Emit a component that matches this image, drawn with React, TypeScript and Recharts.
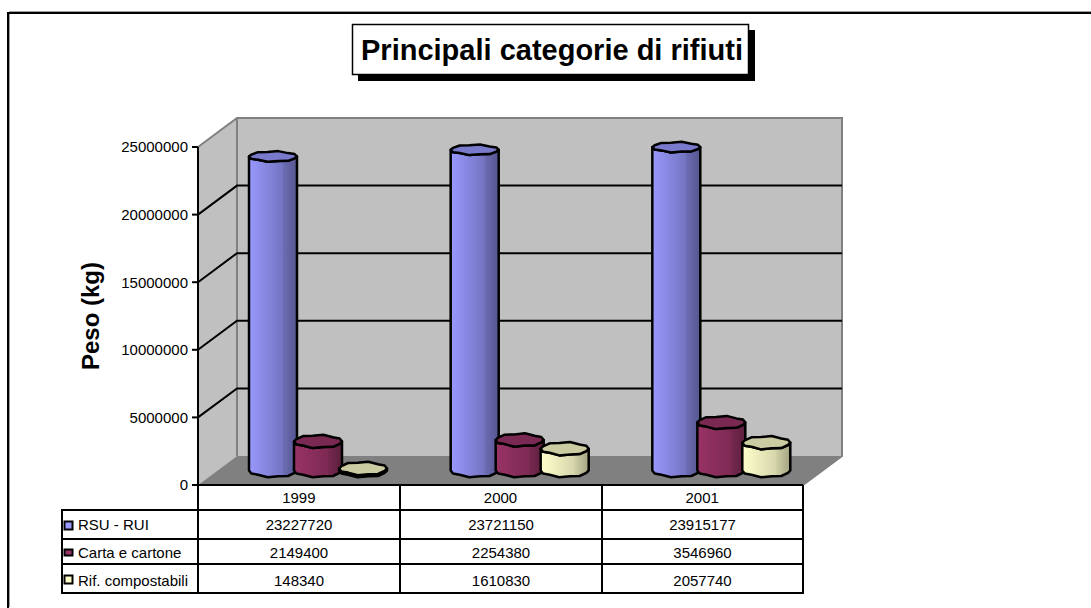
import { BarChart, Bar, XAxis, YAxis, CartesianGrid, ReferenceArea, Customized } from 'recharts'

const YEARS = ['1999', '2000', '2001']
const SERIES_NAMES = ['RSU - RUI', 'Carta e cartone', 'Rif. compostabili']
const RSU_VALUES = [23227720, 23721150, 23915177]
const CARTA_VALUES = [2149400, 2254380, 3546960]
const COMPOST_VALUES = [148340, 1610830, 2057740]
const Y_TICKS = [0, 5000000, 10000000, 15000000, 20000000, 25000000]

const TITLE = 'Principali categorie di rifiuti'
const FONT = '"Liberation Sans", Arial, sans-serif'

const WIDTH = 1091
const HEIGHT = 608
const PLOT_LEFT = 198
const PLOT_RIGHT = 803
const PLOT_TOP = 147
const PLOT_BOTTOM = 485
// offset of the back wall from the front plane
const DEPTH_X = 39
const DEPTH_Y = -29

const PALETTE = [
  { key: 'rsu', front: '#9999ff', mid: '#7474c2', seam: '#6c6cb4', back: '#55558f', cap: '#7a7acc' },
  { key: 'carta', front: '#993366', mid: '#7d2a54', seam: '#76284f', back: '#5c1f3d', cap: '#7a2952' },
  { key: 'compost', front: '#ffffcc', mid: '#d6d6ac', seam: '#cfcfa6', back: '#a3a382', cap: '#cccca3' },
]

const data = YEARS.map((year, i) => ({
  year,
  rsu: RSU_VALUES[i],
  carta: CARTA_VALUES[i],
  compost: COMPOST_VALUES[i],
}))

const RING_SIDES = 14
const WOBBLE = [1, 0.78, 1, 0.84, 1, 0.76, 1, 1, 0.8, 1, 0.84, 1, 0.78, 1]

function ring(cx: number, cy: number, rx: number, ry: number) {
  const pts: [number, number][] = []
  for (let i = 0; i <= RING_SIDES; i++) {
    const a = (i * Math.PI * 2) / RING_SIDES
    const f = WOBBLE[i % RING_SIDES]
    pts.push([cx + rx * Math.cos(a), cy + ry * Math.sin(a) * f])
  }
  return pts
}

const line = (pts: [number, number][]) => pts.map((p) => `L${p[0].toFixed(1)} ${p[1].toFixed(1)}`).join('')

// 3D looking cylinder; x/y/height come from the chart scales
function cylinder(seriesIndex: number) {
  return function CylinderShape(props: any) {
    const { x, y, width, height } = props
    const p = PALETTE[seriesIndex]
    const cx = x + width / 2 + DEPTH_X / 2
    const rx = width / 2 + 1.5
    const topY = y + DEPTH_Y / 2
    const botY = y + height + DEPTH_Y / 2
    const ry = 5.5 + (1.5 * (topY - 156)) / 314
    const top = ring(cx, topY, rx, ry)
    const bottom = ring(cx, botY, rx, 7)
    const half = RING_SIDES / 2
    const topFront = top.slice(0, half + 1)
    const botFront = bottom.slice(0, half + 1).reverse()
    const body = `M${cx - rx} ${topY}` + line(botFront) + line(topFront) + 'Z'
    const cap = `M${top[0][0]} ${top[0][1]}` + line(top.slice(1)) + 'Z'
    return (
      <g stroke="#000" strokeWidth={2.5} strokeLinejoin="round">
        <path d={body} fill={`url(#grad-${p.key})`} />
        <path d={cap} fill={p.cap} />
      </g>
    )
  }
}

function Walls(props: any) {
  const { x, y, width, height } = props
  const r = x + width
  const b = y + height
  const bx = x + DEPTH_X
  const by = y + DEPTH_Y
  const gray = '#808080'
  return (
    <g>
      <polygon points={`${x},${y} ${bx},${by} ${bx},${b + DEPTH_Y} ${x},${b}`} fill="#c0c0c0" />
      <rect x={bx} y={by} width={width} height={height} fill="#c0c0c0" />
      <polygon points={`${x},${b} ${bx},${b + DEPTH_Y} ${r + DEPTH_X},${b + DEPTH_Y} ${r},${b}`} fill={gray} />
      <path
        d={`M${x} ${y}L${bx} ${by}H${r + DEPTH_X}V${b + DEPTH_Y}L${r} ${b}M${bx} ${by}V${b + DEPTH_Y}`}
        fill="none"
        stroke={gray}
        strokeWidth={2}
      />
    </g>
  )
}

function gridLine(props: any) {
  const { x1, x2, y1, key } = props
  if (y1 <= PLOT_TOP + 1 || y1 >= PLOT_BOTTOM - 1) return <g key={key} />
  return (
    <path
      key={key}
      d={`M${x1} ${y1}L${x1 + DEPTH_X} ${y1 + DEPTH_Y}H${x2 + DEPTH_X}`}
      fill="none"
      stroke="#000"
      strokeWidth={2}
    />
  )
}

const COLUMNS = [198, 400, 602, 803]
const ROWS = [510, 539, 564, 593]
const ROW_TEXT_Y = [526, 554, 582]
const KEY_Y = [521.5, 549.5, 575.5]
const ROW_VALUES = [RSU_VALUES, CARTA_VALUES, COMPOST_VALUES]

function Decorations() {
  return (
    <g fontFamily={FONT}>
      {/* outer frame, open towards the bottom right */}
      <path d={`M9.5 ${HEIGHT}V12.5H${WIDTH}`} fill="none" stroke="#a0a0a0" strokeWidth={1} transform="translate(0,-1)" />
      <path d={`M8 ${HEIGHT}V13H${WIDTH}`} fill="none" stroke="#000" strokeWidth={2} />

      {/* title box */}
      <rect x={358} y={30} width={397} height={51} fill="#000" />
      <rect x={352.5} y={24.5} width={396} height={50} fill="#fff" stroke="#000" strokeWidth={1.5} />
      <text x={552} y={60} textAnchor="middle" fontSize={29} fontWeight="bold" fill="#000">
        {TITLE}
      </text>

      {/* data table */}
      <g stroke="#000" strokeWidth={2}>
        {COLUMNS.map((cx) => (
          <line key={cx} x1={cx} x2={cx} y1={PLOT_BOTTOM} y2={ROWS[3] + 1} />
        ))}
        <line x1={62} x2={62} y1={ROWS[0] - 1} y2={ROWS[3] + 1} />
        {ROWS.map((ry) => (
          <line key={ry} x1={62} x2={PLOT_RIGHT} y1={ry} y2={ry} />
        ))}
      </g>
      {SERIES_NAMES.map((name, i) => (
        <g key={name}>
          <rect x={64.5} y={KEY_Y[i]} width={8} height={i === 1 ? 6 : 8} fill={PALETTE[i].front} stroke="#000" strokeWidth={2} />
          <text x={78} y={ROW_TEXT_Y[i]} dominantBaseline="middle" fontSize={15} fill="#000">
            {name}
          </text>
          {ROW_VALUES[i].map((value, j) => (
            <text
              key={j}
              x={(COLUMNS[j] + COLUMNS[j + 1]) / 2}
              y={ROW_TEXT_Y[i]}
              textAnchor="middle"
              dominantBaseline="middle"
              fontSize={15}
              fill="#000"
            >
              {value}
            </text>
          ))}
        </g>
      ))}
    </g>
  )
}

export default function App() {
  return (
    <div style={{ position: 'absolute', left: 0, top: 0, width: WIDTH, height: HEIGHT, background: '#fff', overflow: 'hidden' }}>
      <BarChart
        width={WIDTH}
        height={HEIGHT}
        data={data}
        barSize={45}
        barGap={0}
        barCategoryGap={0}
        margin={{ top: PLOT_TOP, right: WIDTH - PLOT_RIGHT, bottom: 0, left: 0 }}
        style={{ fontFamily: FONT }}
      >
        <defs>
          {PALETTE.map((p) => (
            <linearGradient key={p.key} id={`grad-${p.key}`} x1="0" x2="1" y1="0" y2="0">
              <stop offset="0" stopColor={p.front} />
              <stop offset="0.7" stopColor={p.mid} />
              <stop offset="0.71" stopColor={p.seam} />
              <stop offset="1" stopColor={p.back} />
            </linearGradient>
          ))}
        </defs>
        <ReferenceArea y1={0} y2={25000000} ifOverflow="visible" shape={Walls} zIndex={-200} />
        <CartesianGrid vertical={false} horizontal={gridLine} />
        <XAxis
          dataKey="year"
          height={HEIGHT - PLOT_BOTTOM}
          tickLine={false}
          tick={{ fill: '#000', fontSize: 15 }}
          tickMargin={1}
          axisLine={{ stroke: '#000', strokeWidth: 2 }}
        />
        <YAxis
          width={PLOT_LEFT}
          domain={[0, 25000000]}
          ticks={Y_TICKS}
          interval={0}
          tick={{ fill: '#000', fontSize: 15 }}
          tickSize={6}
          tickMargin={4}
          tickLine={{ stroke: '#000', strokeWidth: 2 }}
          axisLine={{ stroke: '#000', strokeWidth: 2 }}
          label={{
            value: 'Peso (kg)',
            angle: -90,
            position: 'insideLeft',
            offset: 90,
            style: { textAnchor: 'middle', fontWeight: 'bold', fontSize: 24, fill: '#000' },
          }}
        />
        <Bar dataKey="rsu" name={SERIES_NAMES[0]} fill={PALETTE[0].front} shape={cylinder(0)} isAnimationActive={false} />
        <Bar dataKey="carta" name={SERIES_NAMES[1]} fill={PALETTE[1].front} shape={cylinder(1)} isAnimationActive={false} />
        <Bar dataKey="compost" name={SERIES_NAMES[2]} fill={PALETTE[2].front} shape={cylinder(2)} isAnimationActive={false} />
        <Customized component={Decorations} />
      </BarChart>
    </div>
  )
}
